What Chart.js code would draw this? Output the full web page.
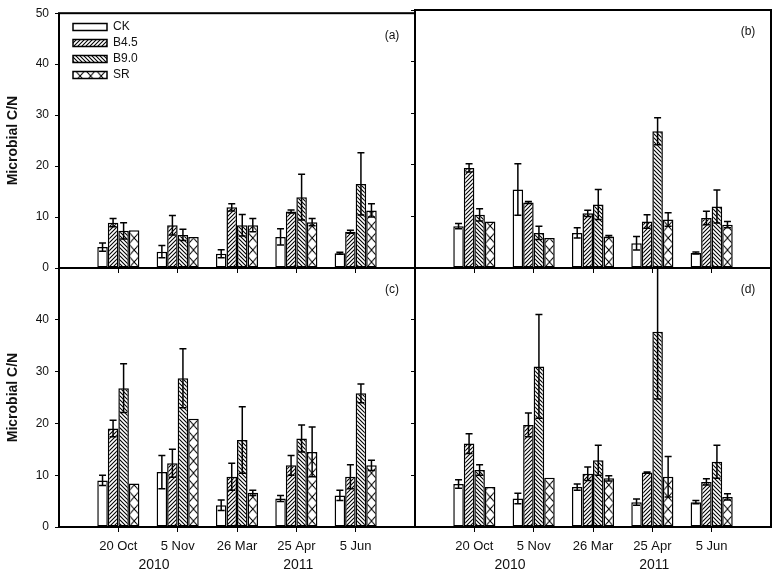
<!DOCTYPE html>
<html><head><meta charset="utf-8">
<script src="https://cdn.jsdelivr.net/npm/chart.js@4.4.1/dist/chart.umd.min.js"></script>
<style>
html,body{margin:0;padding:0;background:#fff;overflow:hidden;}
#wrap{position:relative;width:775px;height:575px;background:#fff;overflow:hidden;}
canvas{position:absolute;left:0;top:0;}
</style></head><body><div id="wrap">
<canvas id="ca" width="800" height="600"></canvas>
<canvas id="cb" width="800" height="600"></canvas>
<canvas id="cc" width="800" height="600"></canvas>
<canvas id="cd" width="800" height="600"></canvas>
</div>
<script>
// ---- data ----
const categories = ['20 Oct', '5 Nov', '26 Mar', '25 Apr', '5 Jun'];
const seriesNames = ['CK', 'B4.5', 'B9.0', 'SR'];
const yTicks = [0, 10, 20, 30, 40, 50];
const yearLabels = ['2010', '2011'];
const panelLetters = ['(a)', '(b)', '(c)', '(d)'];
const yTitle = 'Microbial C/N';

// panel (a)
const a_CK = [4.1, 3.2, 2.8, 6.1, 2.9];
const a_CK_err = [0.8, 1.2, 0.8, 1.6, 0.2];
const a_B45 = [8.9, 8.4, 11.9, 11.1, 7.1];
const a_B45_err = [0.8, 1.9, 0.7, 0.3, 0.3];
const a_B90 = [7.3, 6.5, 8.4, 13.9, 16.5];
const a_B90_err = [1.6, 1.1, 2.1, 4.5, 6.1];
const a_SR = [7.4, 6.1, 8.4, 9.0, 11.3];
const a_SR_err = [0, 0, 1.3, 0.7, 1.3];
// panel (b)
const b_CK = [8.1, 15.2, 6.8, 4.8, 2.9];
const b_CK_err = [0.5, 5.0, 1.0, 1.3, 0.2];
const b_B45 = [19.4, 12.7, 10.6, 9.0, 9.7];
const b_B45_err = [0.8, 0.2, 0.6, 1.3, 1.3];
const b_B90 = [10.3, 6.8, 12.3, 26.5, 11.9];
const b_B90_err = [1.2, 1.3, 2.9, 2.6, 3.2];
const b_SR = [9.0, 5.8, 6.1, 9.4, 8.4];
const b_SR_err = [0, 0, 0.2, 1.3, 0.6];
// panel (c)
const c_CK = [9.0, 10.6, 4.2, 5.5, 6.1];
const c_CK_err = [1.0, 3.2, 1.0, 0.6, 1.0];
const c_B45 = [19.0, 12.3, 9.7, 11.9, 9.7];
const c_B45_err = [1.6, 2.7, 2.6, 1.9, 2.3];
const c_B90 = [26.8, 28.7, 16.8, 17.1, 25.8];
const c_B90_err = [4.7, 5.7, 6.4, 2.6, 1.8];
const c_SR = [8.4, 20.9, 6.6, 14.5, 11.9];
const c_SR_err = [0, 0, 0.5, 4.8, 1.0];
// panel (d)
const d_CK = [8.3, 5.5, 7.7, 4.8, 4.8];
const d_CK_err = [0.8, 1.0, 0.6, 0.6, 0.3];
const d_B45 = [16.1, 19.7, 10.3, 10.5, 8.7];
const d_B45_err = [1.9, 2.3, 1.3, 0.1, 0.6];
const d_B90 = [11.0, 31.0, 12.9, 37.7, 12.6];
const d_B90_err = [1.0, 10.0, 2.9, 13.0, 3.2];
const d_SR = [7.7, 9.5, 9.4, 9.7, 5.8];
const d_SR_err = [0, 0, 0.5, 3.9, 0.6];

// ---- styling ----
const FONT = '"Liberation Sans", Arial, sans-serif';
const CW = 800, CH = 600;
const CAT_PCT = 0.71;
const xLabels = [''].concat(categories, ['']);
const pad = (arr) => [null].concat(arr, [null]);

function tile(w, h, draw) {
  const c = document.createElement('canvas');
  c.width = w; c.height = h;
  const g = c.getContext('2d');
  g.fillStyle = '#fff'; g.fillRect(0, 0, w, h);
  g.strokeStyle = '#000'; g.lineWidth = 1.1;
  draw(g, w, h);
  return c;
}
const fwdTile = tile(4, 4, (g) => { g.beginPath(); g.moveTo(-1, 5); g.lineTo(5, -1); g.moveTo(-1, 1); g.lineTo(1, -1); g.moveTo(3, 5); g.lineTo(5, 3); g.stroke(); });
const bwdTile = tile(4, 4, (g) => { g.beginPath(); g.moveTo(-1, -1); g.lineTo(5, 5); g.moveTo(3, -1); g.lineTo(5, 1); g.moveTo(-1, 3); g.lineTo(1, 5); g.stroke(); });
const srTile = tile(12, 12, (g) => { g.beginPath(); g.moveTo(0, 0); g.lineTo(12, 12); g.moveTo(12, 0); g.lineTo(0, 12); g.stroke(); });
const pctx = document.getElementById('ca').getContext('2d');
const fwdPattern = pctx.createPattern(fwdTile, 'repeat');
const bwdPattern = pctx.createPattern(bwdTile, 'repeat');

function srBg(c) {
  const p = c.chart.ctx.createPattern(srTile, 'repeat');
  const xs = c.chart.scales.x, ys = c.chart.scales.y;
  if (!xs || !ys || c.dataIndex == null) return p;
  const step = xs.width / (xLabels.length - 1);
  const bw = step * CAT_PCT / 4;
  const left = xs.getPixelForValue(c.dataIndex) + bw;
  p.setTransform(new DOMMatrix().translate(left, ys.bottom).scale(bw / 12, 1));
  return p;
}

const errorBars = {
  id: 'errorBars',
  afterDatasetsDraw(chart) {
    const ctx = chart.ctx, ys = chart.scales.y, a = chart.chartArea;
    ctx.save();
    ctx.beginPath(); ctx.rect(a.left, a.top, a.right - a.left, a.bottom - a.top); ctx.clip();
    ctx.strokeStyle = '#000'; ctx.lineWidth = 1.5;
    chart.data.datasets.forEach((ds, di) => {
      const meta = chart.getDatasetMeta(di);
      meta.data.forEach((bar, i) => {
        const v = ds.data[i], e = ds.errors[i];
        if (v == null || !e) return;
        const yt = ys.getPixelForValue(v + e), yb = ys.getPixelForValue(v - e);
        ctx.beginPath();
        ctx.moveTo(bar.x, yt); ctx.lineTo(bar.x, yb);
        ctx.moveTo(bar.x - 3.5, yt); ctx.lineTo(bar.x + 3.5, yt);
        ctx.moveTo(bar.x - 3.5, yb); ctx.lineTo(bar.x + 3.5, yb);
        ctx.stroke();
      });
    });
    ctx.restore();
  }
};

const deco = {
  id: 'deco',
  afterLayout(chart) {
    if (chart.options.plugins.legend.display && chart.legend) {
      chart.legend.left += 10; chart.legend.top += 17;
    }
  },
  afterDraw(chart, args, o) {
    const ctx = chart.ctx, a = chart.chartArea;
    ctx.save();
    ctx.strokeStyle = '#000'; ctx.lineWidth = 2;
    ctx.strokeRect(a.left, a.top, a.right - a.left, a.bottom - a.top);
    ctx.fillStyle = '#111';
    ctx.textAlign = 'center'; ctx.textBaseline = 'middle';
    ctx.font = '12px ' + FONT;
    ctx.fillText(o.letter, a.right - 23, a.top + 22);
    if (o.years) {
      const xs = chart.scales.x;
      ctx.font = '14px ' + FONT;
      const x1 = (xs.getPixelForValue(1) + xs.getPixelForValue(2)) / 2 + 6;
      const x2 = xs.getPixelForValue(4) + 2;
      ctx.fillText(yearLabels[0], x1, 565);
      ctx.fillText(yearLabels[1], x2, 565);
    }
    ctx.restore();
  }
};

function mk(label, data, err, bg) {
  return { label: label, data: pad(data), errors: pad(err), backgroundColor: bg,
    borderColor: '#000', borderWidth: 1.5, borderSkipped: false };
}

function buildPanel(id, p) {
  const Wy = p.leftCol ? 59 : 10;
  const Hx = p.bottomRow ? 48 : 0;
  return new Chart(document.getElementById(id), {
    type: 'bar',
    data: { labels: xLabels, datasets: [
      mk(seriesNames[0], p.ck, p.ckErr, '#ffffff'),
      mk(seriesNames[1], p.b45, p.b45Err, fwdPattern),
      mk(seriesNames[2], p.b90, p.b90Err, bwdPattern),
      mk(seriesNames[3], p.sr, p.srErr, srBg)
    ]},
    options: {
      responsive: false, animation: false, devicePixelRatio: 1,
      layout: { padding: { left: p.area.left - Wy, right: CW - p.area.right, top: p.area.top, bottom: CH - p.area.bottom - Hx } },
      datasets: { bar: { categoryPercentage: CAT_PCT, barPercentage: 1 } },
      plugins: {
        legend: { display: !!p.legend, position: 'chartArea', align: 'start',
          labels: { boxWidth: 34, boxHeight: 7, padding: 4, color: '#111', font: { size: 12, family: FONT } } },
        tooltip: { enabled: false },
        deco: { letter: p.letter, years: p.bottomRow }
      },
      scales: {
        x: {
          offset: false,
          grid: { display: true, offset: false, drawOnChartArea: false, drawTicks: true, tickLength: 5, lineWidth: 1,
            color: (c) => (c.index === 0 || c.index === xLabels.length - 1) ? 'rgba(0,0,0,0)' : '#000' },
          border: { display: false },
          ticks: { display: p.bottomRow, autoSkip: false, maxRotation: 0, color: '#111', font: { size: 13, family: FONT }, padding: 7 },
          afterFit: (s) => { s.height = Hx; }
        },
        y: {
          min: 0, max: 50,
          afterBuildTicks: (s) => { s.ticks = yTicks.map(v => ({ value: v })); },
          ticks: { display: p.leftCol, color: '#111', font: { size: 12, family: FONT }, padding: 6,
            callback: (v) => (p.hide50 && v === 50) ? '' : String(v) },
          grid: { display: true, drawOnChartArea: false, drawTicks: true, tickLength: 4, color: '#000', lineWidth: 1 },
          border: { display: false },
          title: { display: p.leftCol, text: yTitle, color: '#111', font: { size: 14, weight: 'bold', family: FONT }, padding: { top: 5, bottom: 4 } },
          afterFit: (s) => { s.width = Wy; }
        }
      }
    },
    plugins: [errorBars, deco]
  });
}

buildPanel('ca', { area: { left: 59, right: 415, top: 10, bottom: 268 }, leftCol: true, bottomRow: false, legend: true, hide50: false, letter: panelLetters[0],
  ck: a_CK, ckErr: a_CK_err, b45: a_B45, b45Err: a_B45_err, b90: a_B90, b90Err: a_B90_err, sr: a_SR, srErr: a_SR_err });
buildPanel('cb', { area: { left: 415, right: 771, top: 10, bottom: 268 }, leftCol: false, bottomRow: false, legend: false, hide50: false, letter: panelLetters[1],
  ck: b_CK, ckErr: b_CK_err, b45: b_B45, b45Err: b_B45_err, b90: b_B90, b90Err: b_B90_err, sr: b_SR, srErr: b_SR_err });
buildPanel('cc', { area: { left: 59, right: 415, top: 268, bottom: 527 }, leftCol: true, bottomRow: true, legend: false, hide50: true, letter: panelLetters[2],
  ck: c_CK, ckErr: c_CK_err, b45: c_B45, b45Err: c_B45_err, b90: c_B90, b90Err: c_B90_err, sr: c_SR, srErr: c_SR_err });
buildPanel('cd', { area: { left: 415, right: 771, top: 268, bottom: 527 }, leftCol: false, bottomRow: true, legend: false, hide50: false, letter: panelLetters[3],
  ck: d_CK, ckErr: d_CK_err, b45: d_B45, b45Err: d_B45_err, b90: d_B90, b90Err: d_B90_err, sr: d_SR, srErr: d_SR_err });
</script>
</body></html>
